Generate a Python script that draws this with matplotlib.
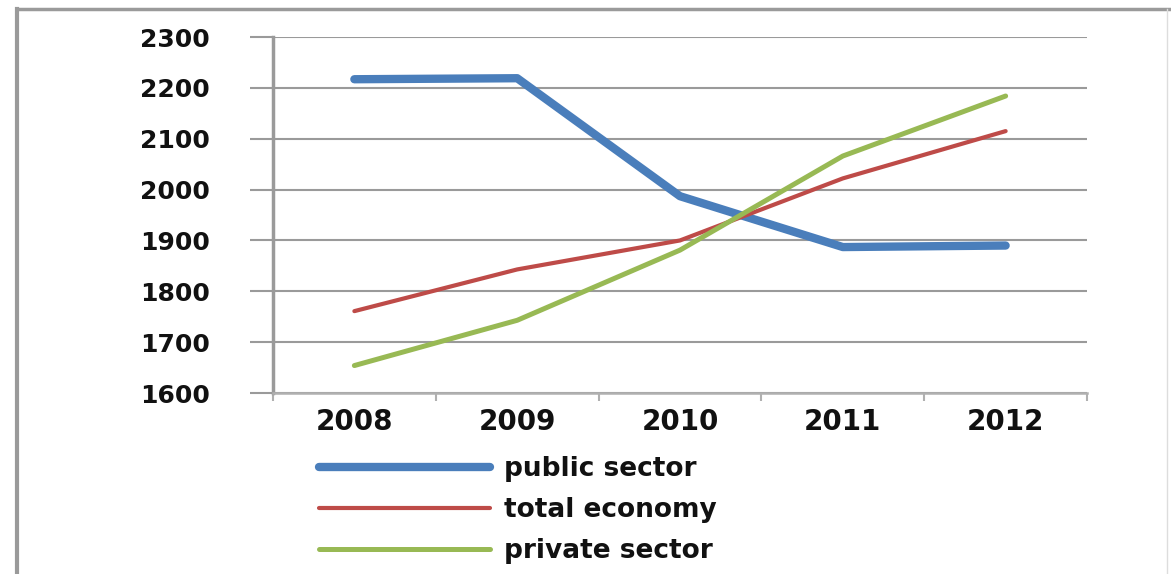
import matplotlib.pyplot as plt
from matplotlib.lines import Line2D

years = ['2008', '2009', '2010', '2011', '2012']
public_sector = [2217, 2219, 1987, 1887, 1890]
total_economy = [1761, 1843, 1900, 2022, 2115]
private_sector = [1654, 1743, 1881, 2066, 2184]
y_ticks = [1600, 1700, 1800, 1900, 2000, 2100, 2200, 2300]

grey = '#9a9a9a'

fig = plt.figure(figsize=(11.71, 5.74), dpi=100)
ax = fig.add_axes([0.2331, 0.3153, 0.6952, 0.6202])

x = range(1, len(years) + 1)
ax.plot(x, public_sector, color='#4a7ebb', lw=6, solid_capstyle='round', solid_joinstyle='round',
        label='public sector', zorder=3)
ax.plot(x, total_economy, color='#be4b48', lw=3, solid_capstyle='round', solid_joinstyle='round',
        label='total economy', zorder=3)
ax.plot(x, private_sector, color='#98b954', lw=3.6, solid_capstyle='round', solid_joinstyle='round',
        label='private sector', zorder=3)

ax.set_xlim(0.5, 5.5)
ax.set_ylim(1600, 2300)
ax.set_yticks(y_ticks)
ax.set_xticks(list(x))
ax.set_xticklabels(years)
ax.set_xticks([i + 0.5 for i in range(0, 6)], minor=True)

ax.grid(axis='y', color=grey, lw=1.5)
ax.set_axisbelow(True)
for s in ['top', 'right']:
    ax.spines[s].set_visible(False)
ax.spines['left'].set_color(grey)
ax.spines['left'].set_linewidth(2.5)
ax.spines['bottom'].set_color('#b0b0b0')
ax.spines['bottom'].set_linewidth(1.8)

ax.tick_params(axis='y', direction='out', length=16.5, width=1.5, color=grey, pad=29,
               labelsize=18, labelcolor='#111111')
ax.tick_params(axis='x', which='major', length=0, pad=11, labelsize=20, labelcolor='#111111')
ax.tick_params(axis='x', which='minor', direction='out', length=6, width=1.5, color='#b0b0b0')
for lab in ax.get_xticklabels() + ax.get_yticklabels():
    lab.set_fontweight('bold')

# outer frame of the chart
fig.add_artist(Line2D([0.0145, 1.0], [0.984, 0.984], color=grey, lw=2.5))
fig.add_artist(Line2D([0.0145, 0.0145], [0.0, 0.984], color=grey, lw=3))
fig.add_artist(Line2D([0.997, 0.997], [0.0, 0.984], color='#dddddd', lw=1))

leg = ax.legend(loc='upper left', bbox_to_anchor=(0.252, 0.247), bbox_transform=fig.transFigure,
                frameon=False, handlelength=6.5, handletextpad=0.5, labelspacing=0.57,
                borderpad=0.4, prop={'size': 19, 'weight': 'bold'})
for t in leg.get_texts():
    t.set_color('#111111')

fig.savefig('out.png', dpi=100)
